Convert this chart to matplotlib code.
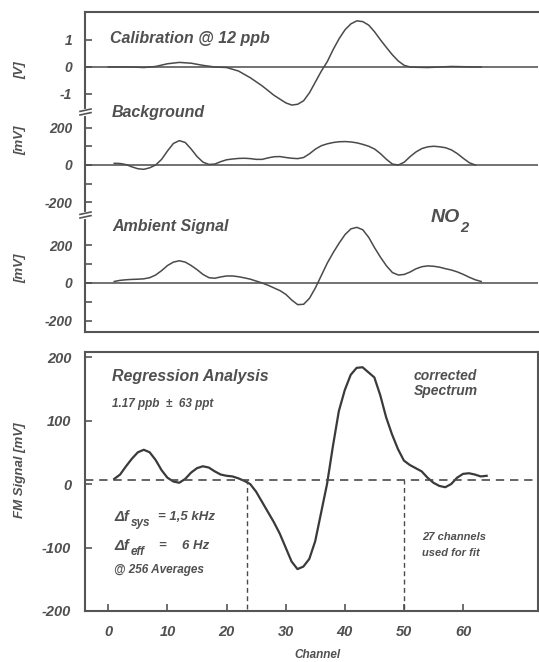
import matplotlib
matplotlib.use("Agg")
import matplotlib.pyplot as plt
import numpy as np

# ---------------- data ----------------
cal_ch = [0, 2, 4, 6, 8, 10, 12, 14, 16, 18, 20, 22, 24, 26, 28, 30, 31, 32, 33, 34, 35, 36,
          37, 38, 39, 40, 41, 42, 43, 44, 45, 46, 47, 48, 49, 50, 51, 52, 54, 56, 58, 60, 62, 63]
cal_v = [0, 0, 0, -0.02, 0.02, 0.12, 0.17, 0.14, 0.06, 0.0, -0.02, -0.15, -0.4, -0.7, -1.05,
         -1.33, -1.41, -1.38, -1.25, -0.95, -0.55, -0.15, 0.2, 0.65, 1.05, 1.38, 1.6, 1.71,
         1.68, 1.55, 1.3, 1.0, 0.72, 0.45, 0.22, 0.06, 0.0, -0.01, -0.02, 0.0, 0.02, 0.01, 0.0, 0.0]

bg_ch = list(range(1, 63))
bg_mv = [9, 8, 2, -10, -20, -23, -15, 0, 30, 75, 115, 130, 120, 85, 45, 15, 3, 5, 18, 28,
         32, 35, 36, 34, 30, 30, 38, 44, 45, 40, 36, 34, 40, 60, 85, 103, 113, 120, 124, 125,
         123, 118, 110, 100, 85, 60, 30, 5, 0, 15, 45, 70, 88, 97, 100, 97, 92, 80, 60, 35, 12, 0]

amb_ch = list(range(1, 64))
amb_mv = [8, 14, 17, 19, 20, 22, 28, 42, 65, 92, 110, 117, 110, 92, 70, 45, 28, 25, 32, 37,
          37, 33, 27, 20, 10, 0, -12, -26, -40, -60, -90, -114, -112, -80, -25, 40, 105, 160,
          210, 255, 285, 293, 280, 240, 185, 135, 90, 55, 42, 45, 58, 75, 86, 90, 88, 83, 75,
          68, 58, 45, 30, 17, 8]

reg_ch = list(range(1, 65))
reg_mv = [8, 15, 28, 40, 50, 54, 50, 38, 22, 10, 4, 2, 8, 18, 25, 28, 26, 20, 15, 13, 12, 9,
          5, 0, -12, -28, -44, -60, -78, -100, -122, -134, -130, -118, -90, -45, 0, 60, 115,
          148, 172, 183, 184, 176, 168, 140, 105, 78, 55, 37, 30, 25, 20, 10, 2, -3, -5, 0,
          10, 16, 17, 15, 12, 13]

baseline = 7           # dashed baseline [mV]
fit_range = [23.4, 50.1]   # channels bounding fit region
x_ticks = [0, 10, 20, 30, 40, 50, 60]

# ---------------- style ----------------
W, H = 539, 662
FONT = "Liberation Sans"
TXT = "#505050"
LINE = "#4a4a4a"
plt.rcParams["font.family"] = [FONT, "DejaVu Sans"]
plt.rcParams["axes.unicode_minus"] = False

fig = plt.figure(figsize=(W / 100, H / 100), dpi=100)


def ax_rect(top_px, bot_px, left_px=85, right_px=538):
    return [left_px / W, 1 - bot_px / H, (right_px - left_px) / W, (bot_px - top_px) / H]


def ftxt(x, y, s, size, **kw):
    kw.setdefault("ha", "left")
    kw.setdefault("va", "center")
    fig.text(x / W, 1 - y / H, s, fontsize=size, fontweight="bold", fontstyle="italic",
             color=TXT, family=FONT, **kw)


xlim = (-3.94, 72.6)

ax1 = fig.add_axes(ax_rect(12, 112))
ax2 = fig.add_axes(ax_rect(112, 215))
ax3 = fig.add_axes(ax_rect(215, 332))
ax4 = fig.add_axes(ax_rect(352, 611, right_px=537.5))

panels = [
    (ax1, cal_ch, cal_v, (-1.667, 2.037), [-1, 0, 1], []),
    (ax2, bg_ch, bg_mv, (-266.7, 282.7), [-200, 0, 200], [-100, 100]),
    (ax3, amb_ch, amb_mv, (-257.9, 357.9), [-200, 0, 200], [-100, 100]),
]
for ax, xs, ys, yl, yt, ym in panels:
    ax.plot(xs, ys, color=LINE, lw=1.1)
    ax.axhline(0, color=LINE, lw=1.1)
    ax.set_xlim(*xlim)
    ax.set_ylim(*yl)
    ax.set_yticks(yt)
    ax.set_yticks(ym, minor=True)
    ax.set_yticklabels([str(t) for t in yt])
    ax.set_xticks([])
    for s in ["top", "bottom", "right"]:
        ax.spines[s].set_visible(False)
    ax.spines["left"].set_color("#555555")
    ax.spines["left"].set_linewidth(1.5)
    ax.tick_params(axis="y", which="both", direction="in", length=5, width=1.2,
                   color="#555555", pad=9, labelsize=10, labelcolor=TXT)
    for lab in ax.get_yticklabels():
        lab.set_fontweight("bold")
        lab.set_fontstyle("italic")
    ax.patch.set_alpha(0)

ax1.spines["top"].set_visible(True)
ax1.spines["top"].set_color("#555555")
ax1.spines["top"].set_linewidth(1.5)
ax3.spines["bottom"].set_visible(True)
ax3.spines["bottom"].set_color("#555555")
ax3.spines["bottom"].set_linewidth(1.5)

# axis-break marks on the left spine
for ypx in (112, 215):
    fig.lines.append(plt.Line2D([85 / W, 85 / W], [1 - (ypx - 1.5) / H, 1 - (ypx + 1.5) / H],
                                transform=fig.transFigure, color="white", lw=3, zorder=5))
    for dy in (-1.8, 1.8):
        y0 = 1 - (ypx + dy + 1.2) / H
        y1 = 1 - (ypx + dy - 1.2) / H
        fig.lines.append(plt.Line2D([80 / W, 91 / W], [y0, y1], transform=fig.transFigure,
                                    color="#555555", lw=1.2, zorder=6))

# bottom panel
ax4.plot(reg_ch, reg_mv, color="#3a3a3a", lw=1.6)
ax4.axhline(baseline, color=LINE, lw=1.2, ls=(0, (5, 3.5)))
for c in fit_range:
    ax4.plot([c, c], [-197, baseline], color=LINE, lw=1.0, ls=(0, (3.5, 2.5)))
ax4.set_xlim(*xlim)
ax4.set_ylim(-197, 208)
ax4.set_yticks([-200, -100, 0, 100, 200])
ax4.set_xticks(x_ticks)
for s in ax4.spines.values():
    s.set_color("#555555")
    s.set_linewidth(1.5)
ax4.tick_params(axis="both", direction="in", length=5, width=1.2, color="#555555",
                labelsize=10.5, labelcolor=TXT)
ax4.tick_params(axis="y", pad=10)
ax4.tick_params(axis="x", pad=10)
for lab in ax4.get_yticklabels() + ax4.get_xticklabels():
    lab.set_fontweight("bold")
    lab.set_fontstyle("italic")

# ---------------- texts ----------------
ftxt(110, 38, "Calibration @ 12 ppb", 11.5)
ftxt(112, 112, "Background", 11.5)
ftxt(112, 227, "Ambient Signal", 11.5)
ftxt(431, 218, "NO", 14)
ftxt(460, 228, "2", 10.5)

ftxt(20, 70, "[V]", 9.5, rotation=90, ha="center")
ftxt(20, 140, "[mV]", 9.5, rotation=90, ha="center")
ftxt(20, 268, "[mV]", 9.5, rotation=90, ha="center")
ftxt(20, 470, "FM Signal [mV]", 9.5, rotation=90, ha="center")

ftxt(112, 377, "Regression Analysis", 11.5)
ftxt(112, 404, "1.17 ppb  \u00b1  63 ppt", 8.5)
ftxt(414, 376, "corrected", 10)
ftxt(414, 391, "Spectrum", 10)

ftxt(114, 517, "\u0394f", 10.5)
ftxt(131, 523, "sys", 8.5)
ftxt(158, 517, "= 1,5 kHz", 9.5)
ftxt(114, 546, "\u0394f", 10.5)
ftxt(131, 552, "eff", 8.5)
ftxt(158, 546, "=", 9.5)
ftxt(182, 546, "6 Hz", 9.5)
ftxt(114, 570, "@ 256 Averages", 8.5)

ftxt(422, 537, "27 channels", 8)
ftxt(422, 553, "used for fit", 8)

ftxt(317, 655, "Channel", 8.5, ha="center")

fig.savefig("out.png", dpi=100)
